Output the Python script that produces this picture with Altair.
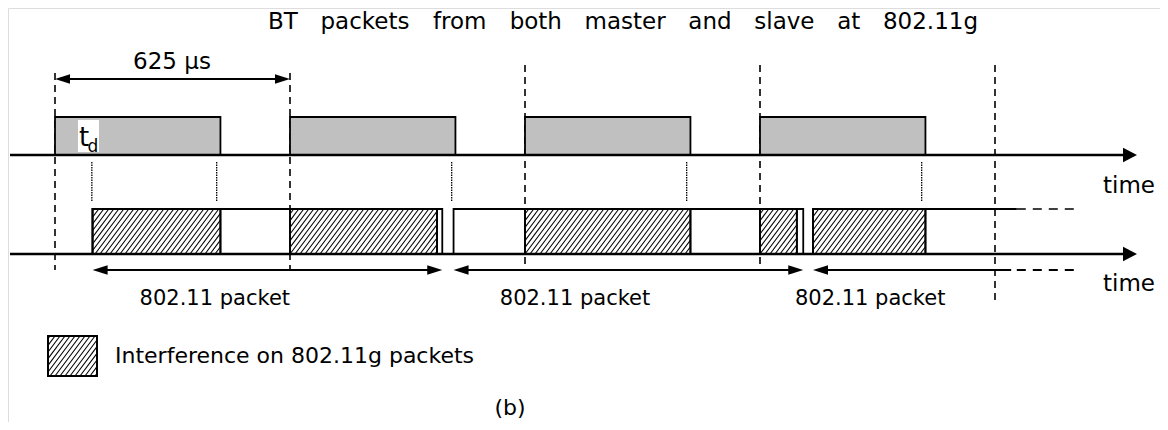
import altair as alt
import pandas as pd
import numpy as np

# ---------------- data (time in microseconds) ----------------
slot_starts = [0, 625, 1250, 1875, 2500]          # BT slot boundaries
bt_starts = [0, 625, 1250, 1875]                  # BT packets (master/slave)
bt_length = 440
td_marks = [98, 430, 1055, 1680, 2305]            # dotted markers
wifi_starts = [100, 1060, 2016]                   # 802.11 packets
wifi_ends = [1030, 1990, 2558]                    # last one keeps going
wifi_open_end = 2723
interf_starts = [100, 625, 1250, 1875, 2016]      # interfered parts
interf_ends = [440, 1016, 1690, 1973, 2315]
packet_labels = ["802.11 packet", "802.11 packet", "802.11 packet"]
packet_label_t = [425, 1383, 2168]
slot_label = "625 μs"
title_words = ["BT", "packets", "from", "both", "master", "and", "slave", "at", "802.11g"]
legend_text = "Interference on 802.11g packets"
caption_text = "(b)"

# ---------------- layout (page pixels) ----------------
W, H = 1152, 414
PX_PER_US = 235 / 625
X0 = 55
FONT = "DejaVu Sans"


def t_of(px):
    return (px - X0) / PX_PER_US


def px_of(t):
    return X0 + t * PX_PER_US


xs = alt.Scale(domain=[t_of(8), t_of(8 + W)], range=[0, W], nice=False, zero=False)
ys = alt.Scale(domain=[8, 8 + H], range=[0, H], nice=False, zero=False)

Y_BT_TOP, Y_AXIS1 = 117, 155
Y_WIFI_TOP, Y_AXIS2 = 209, 254
Y_ARROW = 270
Y_SLOT_ARROW = 79


def X(f="x"):
    return alt.X(f"{f}:Q", scale=xs, axis=None)


def Y(f="y"):
    return alt.Y(f"{f}:Q", scale=ys, axis=None)


def rules(df, **kw):
    return alt.Chart(df).mark_rule(**kw).encode(x=X("x"), x2="x2", y=Y("y"), y2="y2")


def rects(df, **kw):
    return alt.Chart(df).mark_rect(**kw).encode(x=X("x"), x2="x2", y=Y("y"), y2="y2")


def heads(df, size, path):
    return alt.Chart(df).mark_point(shape=path, size=size, filled=True, color="black",
                                    opacity=1, strokeWidth=0).encode(x=X("x"), y=Y("y"))


def texts(df, size, align="center", baseline="middle"):
    return alt.Chart(df).mark_text(font=FONT, fontSize=size, align=align, baseline=baseline,
                                   color="black").encode(x=X("x"), y=Y("y"), text="text:N")


RIGHT_BIG = "M0,0L-2,-1.05L-2,1.05Z"
RIGHT_SMALL = "M0,0L-2,-0.62L-2,0.62Z"
LEFT_SMALL = "M0,0L2,-0.62L2,0.62Z"


def hatch_segments(x0px, x1px, ytop, ybot, k=0.75, s=5.0):
    h = ybot - ytop
    rows = []
    n0 = int(np.floor((x0px - k * h) / s)) - 1
    n1 = int(np.ceil(x1px / s)) + 1
    for n in range(n0, n1 + 1):
        xb = n * s
        umin = max(0.0, (x0px - xb) / k)
        umax = min(h, (x1px - xb) / k)
        if umax - umin > 0.3:
            rows.append(dict(x=t_of(xb + k * umin), y=ybot - umin,
                             x2=t_of(xb + k * umax), y2=ybot - umax))
    return rows


# approximate DejaVu Sans advance widths (em) to space the title words
ADV = {"B": .686, "T": .611, "p": .635, "a": .613, "c": .55, "k": .579, "e": .615, "t": .392,
       "s": .521, "f": .352, "r": .411, "o": .612, "m": .974, "b": .635, "h": .634, "n": .634,
       "d": .635, "l": .278, "v": .592, "8": .636, "0": .636, "2": .636, "1": .636, ".": .318,
       "g": .635}

layers = []

# slot boundaries (dashed)
dash_top = [73, 73, 65, 65, 65]
dash_bot = [270, 270, 270, 270, 300]
layers.append(rules(pd.DataFrame(dict(x=slot_starts, x2=slot_starts, y=dash_top, y2=dash_bot)),
                    stroke="black", strokeWidth=1.6, strokeDash=[7, 5]))

# dotted markers
layers.append(rules(pd.DataFrame(dict(x=td_marks, x2=td_marks, y=[162] * 5, y2=[201] * 5)),
                    stroke="black", strokeWidth=1.3, strokeDash=[1.5, 1]))

# BT packets
bt = pd.DataFrame(dict(x=bt_starts, x2=[b + bt_length for b in bt_starts],
                       y=[Y_BT_TOP] * 4, y2=[Y_AXIS1] * 4))
layers.append(rects(bt, fill="#c0c0c0", stroke="black", strokeWidth=1.8))

# td label box
layers.append(rects(pd.DataFrame(dict(x=[t_of(78)], x2=[t_of(99)], y=[120], y2=[152])),
                    fill="white", strokeWidth=0))
layers.append(texts(pd.DataFrame(dict(x=[t_of(79)], y=[146], text=["t"])), 26, "left", "alphabetic"))
layers.append(texts(pd.DataFrame(dict(x=[t_of(87.5)], y=[152], text=["d"])), 17, "left", "alphabetic"))

# 802.11 packet outlines (closed ones)
wf = pd.DataFrame(dict(x=wifi_starts[:2], x2=wifi_ends[:2], y=[Y_WIFI_TOP] * 2, y2=[Y_AXIS2] * 2))
layers.append(rects(wf, fill="white", stroke="black", strokeWidth=1.8))
# open last packet
layers.append(rules(pd.DataFrame(dict(x=[wifi_starts[2], wifi_starts[2]], x2=[wifi_starts[2], wifi_ends[2]],
                                      y=[Y_WIFI_TOP, Y_WIFI_TOP], y2=[Y_AXIS2, Y_WIFI_TOP])),
                    stroke="black", strokeWidth=1.8))
layers.append(rules(pd.DataFrame(dict(x=[wifi_ends[2]], x2=[wifi_open_end], y=[Y_WIFI_TOP], y2=[Y_WIFI_TOP])),
                    stroke="black", strokeWidth=1.6, strokeDash=[9, 7]))

# interference (hatched)
hf = pd.DataFrame(dict(x=interf_starts, x2=interf_ends, y=[Y_WIFI_TOP] * 5, y2=[Y_AXIS2] * 5))
layers.append(rects(hf, fill="white", stroke="black", strokeWidth=1.8))
hrows = []
for a, b in zip(interf_starts, interf_ends):
    hrows += hatch_segments(px_of(a), px_of(b), Y_WIFI_TOP, Y_AXIS2)
layers.append(rules(pd.DataFrame(hrows), stroke="black", strokeWidth=1.1))
layers.append(rects(hf, fill="transparent", stroke="black", strokeWidth=1.8))

# time axes
ax = pd.DataFrame(dict(x=[t_of(10), t_of(10)], x2=[t_of(1124), t_of(1124)],
                       y=[Y_AXIS1, Y_AXIS2], y2=[Y_AXIS1, Y_AXIS2]))
layers.append(rules(ax, stroke="black", strokeWidth=2.6))
layers.append(heads(pd.DataFrame(dict(x=[t_of(1137)] * 2, y=[Y_AXIS1, Y_AXIS2])), 196, RIGHT_BIG))
layers.append(texts(pd.DataFrame(dict(x=[t_of(1103)] * 2, y=[186, 284], text=["time", "time"])),
                    23, "left"))

# 625 us arrow
layers.append(rules(pd.DataFrame(dict(x=[slot_starts[0] + 20], x2=[slot_starts[1] - 20],
                                      y=[Y_SLOT_ARROW], y2=[Y_SLOT_ARROW])), stroke="black", strokeWidth=2.2))
layers.append(heads(pd.DataFrame(dict(x=[slot_starts[1]], y=[Y_SLOT_ARROW])), 225, RIGHT_SMALL))
layers.append(heads(pd.DataFrame(dict(x=[slot_starts[0]], y=[Y_SLOT_ARROW])), 225, LEFT_SMALL))
layers.append(texts(pd.DataFrame(dict(x=[t_of(172)], y=[62], text=[slot_label])), 23))

# 802.11 packet extent arrows
pa = pd.DataFrame(dict(x=[s + 15 for s in wifi_starts], x2=[e - 15 for e in wifi_ends],
                       y=[Y_ARROW] * 3, y2=[Y_ARROW] * 3))
layers.append(rules(pa, stroke="black", strokeWidth=2.2))
layers.append(rules(pd.DataFrame(dict(x=[wifi_ends[2]], x2=[wifi_open_end], y=[Y_ARROW], y2=[Y_ARROW])),
                    stroke="black", strokeWidth=2, strokeDash=[9, 7]))
layers.append(heads(pd.DataFrame(dict(x=wifi_ends[:2], y=[Y_ARROW] * 2)), 225, RIGHT_SMALL))
layers.append(heads(pd.DataFrame(dict(x=wifi_starts, y=[Y_ARROW] * 3)), 225, LEFT_SMALL))
layers.append(texts(pd.DataFrame(dict(x=packet_label_t, y=[299] * 3, text=packet_labels)), 21))

# legend
LX0, LX1, LY0, LY1 = 48, 97, 336, 376
layers.append(rects(pd.DataFrame(dict(x=[t_of(LX0)], x2=[t_of(LX1)], y=[LY0], y2=[LY1])),
                    fill="white", stroke="black", strokeWidth=1.8))
layers.append(rules(pd.DataFrame(hatch_segments(LX0, LX1, LY0, LY1)), stroke="black", strokeWidth=1.1))
layers.append(rects(pd.DataFrame(dict(x=[t_of(LX0)], x2=[t_of(LX1)], y=[LY0], y2=[LY1])),
                    fill="transparent", stroke="black", strokeWidth=1.8))
layers.append(texts(pd.DataFrame(dict(x=[t_of(115)], y=[356], text=[legend_text])), 22, "left"))

# title: words spread across the reference extent
TITLE_SIZE, TITLE_L, TITLE_R = 23, 268, 978
wwidths = [sum(ADV.get(ch, .6) for ch in w) * TITLE_SIZE for w in title_words]
gap = (TITLE_R - TITLE_L - sum(wwidths)) / (len(title_words) - 1)
starts, cur = [], TITLE_L
for w in wwidths:
    starts.append(cur)
    cur += w + gap
layers.append(texts(pd.DataFrame(dict(x=[t_of(s) for s in starts], y=[22] * len(title_words),
                                      text=title_words)), TITLE_SIZE, "left"))

# caption
layers.append(texts(pd.DataFrame(dict(x=[t_of(510)], y=[408], text=[caption_text])), 22))

chart = alt.layer(*layers).properties(
    width=W, height=H, padding=0, autosize=alt.AutoSizeParams(type="none")
).configure_view(stroke=None).configure(background="white")

chart.save("out.html", embed_options={"renderer": "svg", "actions": False})
